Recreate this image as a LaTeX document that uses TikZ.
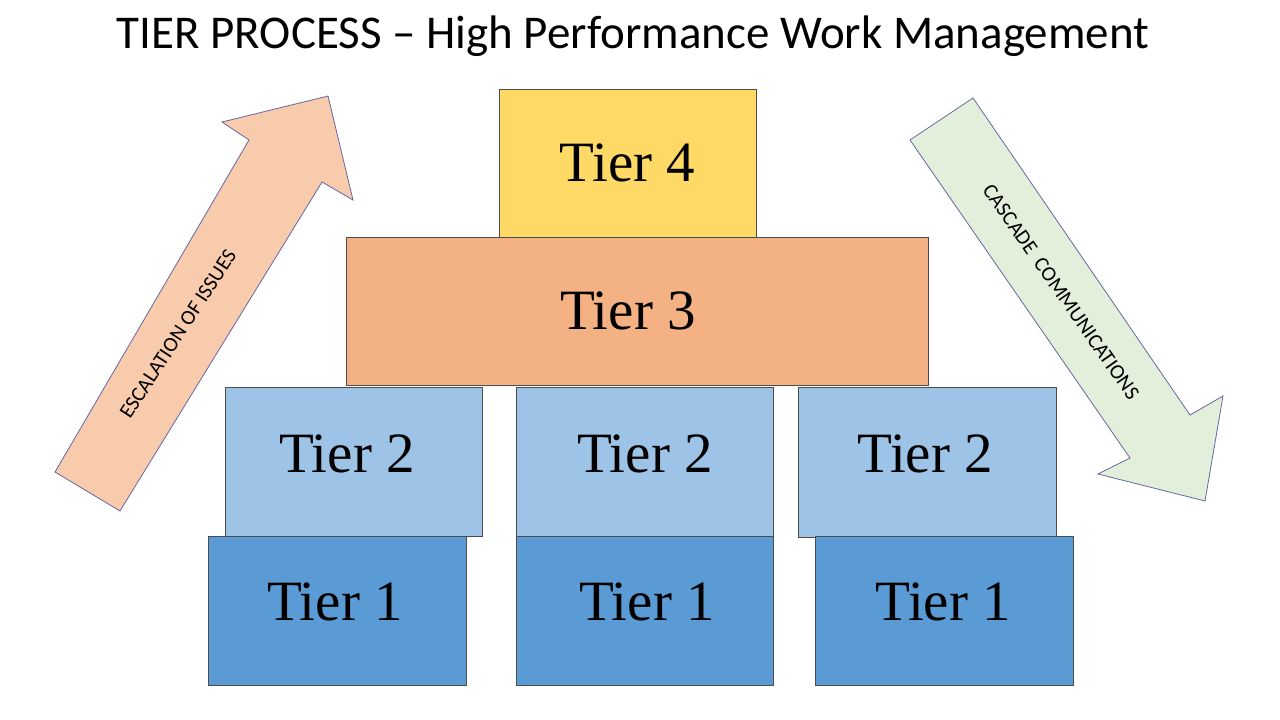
\documentclass[tikz,border=0pt]{standalone}
\usepackage{fontspec}
\setmainfont{Liberation Serif}
\newfontfamily\calfont{Carlito}
\begin{document}
\begin{tikzpicture}[x=1pt,y=-1pt,
 box/.style={draw=black!70,line width=0.6pt},
 lbl/.style={font=\fontsize{57}{62}\selectfont},
 arr/.style={draw=black!60!blue!60,line width=0.8pt}]
\useasboundingbox (0,0) rectangle (1280,720);
\node[font=\calfont\fontsize{47}{52}\selectfont] (title) at (633,36) {TIER PROCESS – High Performance Work Management};
\definecolor{yel}{HTML}{FFD966}\definecolor{org}{HTML}{F4B183}
\definecolor{lb}{HTML}{9DC3E6}\definecolor{db}{HTML}{5B9BD5}
\definecolor{pe}{HTML}{F8CBAD}\definecolor{gr}{HTML}{E2EFDA}
\draw[box,fill=yel] (499,89) rectangle (756,237); \node[lbl] (t4) at (627.5,163) {Tier 4};
\draw[box,fill=org] (346,237) rectangle (928,385); \node[lbl] (t3) at (628,311) {Tier 3};
\draw[box,fill=lb] (225,387) rectangle (482,536); \node[lbl] (t2a) at (347,454) {Tier 2};
\draw[box,fill=lb] (516,387) rectangle (773,536); \node[lbl] (t2b) at (645,454) {Tier 2};
\draw[box,fill=lb] (798,387) rectangle (1056,537); \node[lbl] (t2c) at (925,454) {Tier 2};
\draw[box,fill=db] (208,536) rectangle (466,685); \node[lbl] (t1a) at (335,602) {Tier 1};
\draw[box,fill=db] (516,536) rectangle (773,685); \node[lbl] (t1b) at (647,602) {Tier 1};
\draw[box,fill=db] (815,536) rectangle (1073,685); \node[lbl] (t1c) at (943,602) {Tier 1};
\draw[arr,fill=pe] (55,472) -- (249,140) -- (222,122) -- (328,96) -- (353,200) -- (322,182) -- (120,511) -- cycle;
\node[rotate=57,font=\calfont\fontsize{21}{24}\selectfont] (esc) at (178,334) {ESCALATION OF ISSUES};
\draw[arr,fill=gr] (910,140) -- (973,98) -- (1190,415) -- (1223,396) -- (1205,501) -- (1098,474) -- (1130,458) -- cycle;
\node[rotate=-55,font=\calfont\fontsize{21}{24}\selectfont] (cas) at (1061,292) {CASCADE\ \ COMMUNICATIONS};
\end{tikzpicture}
\end{document}
